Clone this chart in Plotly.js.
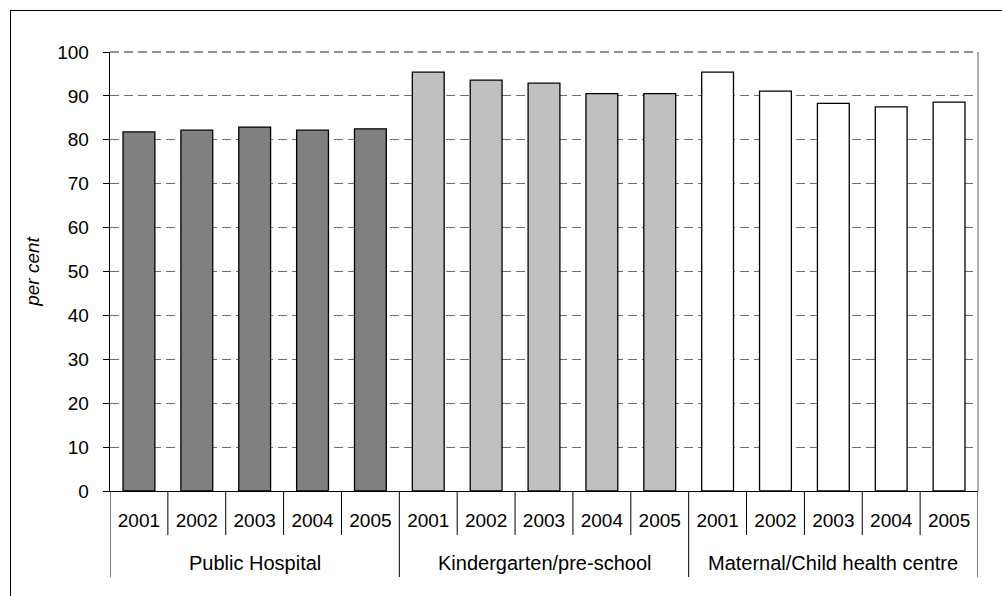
<!DOCTYPE html>
<html>
<head>
<meta charset="utf-8">
<script src="https://cdn.plot.ly/plotly-3.0.1.min.js"></script>
<style>
  html, body { margin: 0; padding: 0; background: #fff; }
  #wrap { position: relative; width: 1002px; height: 596px; overflow: hidden; }
  #chart { width: 1002px; height: 596px; }
  #frame { position: absolute; left: 10px; top: 10px; width: 1100px; height: 700px;
           border-left: 1.3px solid #000; border-top: 1.3px solid #000; pointer-events: none; }
</style>
</head>
<body>
<div id="wrap">
  <div id="chart"></div>
  <div id="frame"></div>
</div>
<script>
// ---- data ----
const groups = ['Public Hospital', 'Kindergarten/pre-school', 'Maternal/Child health centre'];
const years = ['2001', '2002', '2003', '2004', '2005'];
const publicHospital = [81.8, 82.2, 82.9, 82.2, 82.5];
const kindergarten = [95.4, 93.6, 92.9, 90.5, 90.5];
const maternalChild = [95.4, 91.1, 88.3, 87.5, 88.6];
const seriesValues = [publicHospital, kindergarten, maternalChild];
const fillColors = ['#808080', '#c0c0c0', '#ffffff'];
const yTitle = 'per cent';

// ---- layout helpers ----
const FONT = 'Liberation Sans, Arial, Helvetica, sans-serif';
const plotTop = 52, plotBottom = 491;
const plotH = plotBottom - plotTop;
const nYears = years.length;
const GRID = '#6e6e6e';
const GRIDDASH = '9px,5px';

const traces = groups.map((g, gi) => ({
  type: 'bar',
  name: g,
  x: years.map((_, i) => gi * nYears + i),
  y: seriesValues[gi],
  width: 0.55,
  marker: { color: fillColors[gi], line: { color: '#000', width: 1.3 } },
  hoverinfo: 'y',
  showlegend: false
}));

const tickvals = [], ticktext = [];
groups.forEach((g, gi) => years.forEach((yr, i) => { tickvals.push(gi * nYears + i); ticktext.push(yr); }));

const shapes = [];
const total = groups.length * nYears;
for (let k = 0; k <= total; k++) {
  const isGroup = (k % nYears === 0);
  shapes.push({
    type: 'line', xref: 'x', yref: 'paper',
    x0: k - 0.5, x1: k - 0.5, y0: 0, y1: -(isGroup ? 86 : 44) / plotH,
    line: { color: '#000', width: 1 }
  });
}
// right border of plot area
shapes.push({ type: 'line', xref: 'paper', yref: 'paper', x0: 1, x1: 1, y0: 0, y1: 1,
  line: { color: '#808080', width: 1.3 } });
// top border of plot area (dashed like the gridlines)
shapes.push({ type: 'line', xref: 'paper', yref: 'paper', x0: 0, x1: 1, y0: 1, y1: 1,
  line: { color: GRID, width: 1.3, dash: GRIDDASH } });

const annotations = groups.map((g, gi) => ({
  text: g, xref: 'x', yref: 'paper',
  x: gi * nYears + (nYears - 1) / 2, y: -(562.7 - plotBottom) / plotH,
  xanchor: 'center', yanchor: 'middle', showarrow: false,
  font: { family: FONT, size: 20, color: '#000' }
}));

const layout = {
  width: 1002, height: 596,
  margin: { l: 109.5, r: 24.3, t: plotTop, b: 596 - plotBottom, pad: 0 },
  paper_bgcolor: '#fff', plot_bgcolor: '#fff',
  font: { family: FONT, size: 19, color: '#000' },
  bargap: 0,
  xaxis: {
    type: 'linear', range: [-0.5, total - 0.5],
    tickmode: 'array', tickvals: tickvals, ticktext: ticktext,
    ticks: '', showgrid: false, zeroline: false,
    showline: true, linecolor: '#000', linewidth: 1.3,
    tickfont: { family: FONT, size: 19, color: '#000' },
    ticklabelstandoff: 12,
    fixedrange: true
  },
  yaxis: {
    range: [0, 100], tickmode: 'linear', tick0: 0, dtick: 10,
    ticks: 'outside', ticklen: 6, tickcolor: '#000', tickwidth: 1,
    showline: true, linecolor: '#000', linewidth: 1.3,
    showgrid: true, gridcolor: GRID, gridwidth: 1, griddash: GRIDDASH,
    zeroline: false,
    tickfont: { family: FONT, size: 19, color: '#000' },
    ticklabelstandoff: 10,
    title: { text: yTitle, standoff: 12, font: { family: FONT, size: 19, color: '#000', style: 'italic' } },
    automargin: false,
    fixedrange: true
  },
  shapes: shapes,
  annotations: annotations
};

Plotly.newPlot('chart', traces, layout, { displayModeBar: false, staticPlot: true });
</script>
</body>
</html>
